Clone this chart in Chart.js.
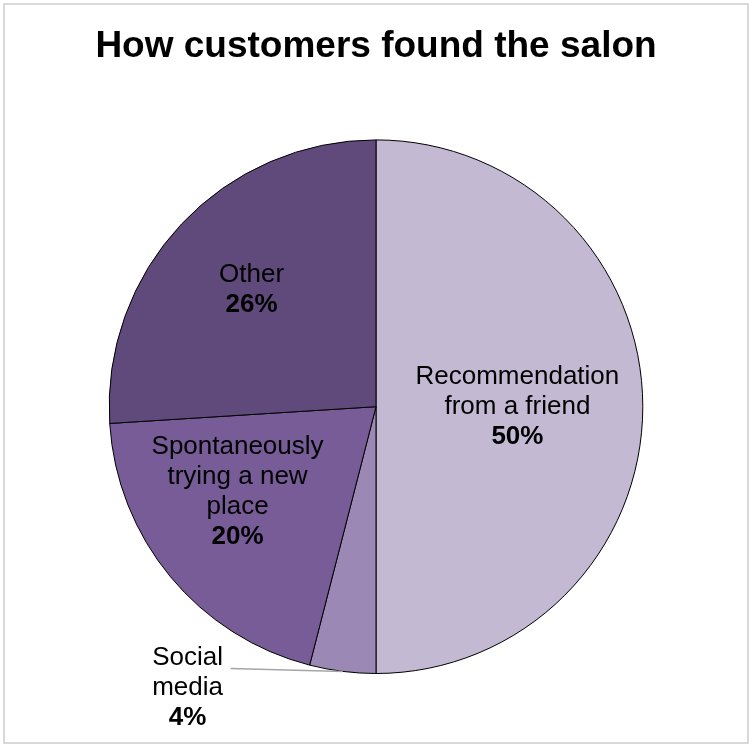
<!DOCTYPE html>
<html>
<head>
<meta charset="utf-8">
<title>How customers found the salon</title>
<script src="https://cdn.jsdelivr.net/npm/chart.js@4/dist/chart.umd.min.js"></script>
<style>
    html, body {
        margin: 0;
        padding: 0;
        background: #ffffff;
    }
    #wrap {
        position: relative;
        width: 752px;
        height: 746px;
    }
    #frame {
        position: absolute;
        left: 3px;
        top: 3px;
        width: 742px;
        height: 737px;
        border: 2px solid #d9d9d9;
        pointer-events: none;
    }
</style>
</head>
<body>
<div id="wrap">
    <canvas id="pieChart"></canvas>
    <div id="frame"></div>
</div>
<script>
const categories = [
    ["Recommendation", "from a friend"],
    ["Social", "media"],
    ["Spontaneously", "trying a new", "place"],
    ["Other"],
];
const shares = [50, 4, 20, 26];
const sliceColors = ["#c3b9d3", "#9b88b4", "#775c98", "#604a7b"];

// where each label sits: fraction of radius along the slice middle, plus a small nudge
const labelPlacement = [
    { r: 0.53, dx: 0, dy: 0 },
    { outside: true, dx: -155, dy: 16 },
    { r: 0.62, dx: -11, dy: -20 },
    { r: 0.64, dx: 0, dy: 0 },
];

const fontFamily = "'Liberation Sans', Arial, Helvetica, sans-serif";

const sliceLabels = {
    id: "sliceLabels",
    afterDatasetsDraw(chart) {
        const ctx = chart.ctx;
        const meta = chart.getDatasetMeta(0);
        const lineH = 30;
        ctx.save();
        ctx.textAlign = "center";
        ctx.textBaseline = "middle";
        ctx.fillStyle = "#000000";
        meta.data.forEach((arc, i) => {
            const p = arc.getProps(["x", "y", "startAngle", "endAngle", "outerRadius"], true);
            const mid = (p.startAngle + p.endAngle) / 2;
            const place = labelPlacement[i];
            let cx, cy;
            if (place.outside) {
                const ex = p.x + Math.cos(mid) * p.outerRadius;
                const ey = p.y + Math.sin(mid) * p.outerRadius;
                cx = ex + place.dx;
                cy = ey + place.dy;
                // leader line from first text line to the slice edge
                ctx.strokeStyle = "#a6a6a6";
                ctx.lineWidth = 1.5;
                ctx.beginPath();
                ctx.moveTo(cx + 43, cy - lineH * (categories[i].length) / 2 + 11);
                ctx.lineTo(ex, ey);
                ctx.stroke();
            } else {
                cx = p.x + Math.cos(mid) * p.outerRadius * place.r + place.dx;
                cy = p.y + Math.sin(mid) * p.outerRadius * place.r + place.dy;
            }
            const lines = categories[i].concat([shares[i] + "%"]);
            const top = cy - (lines.length - 1) * lineH / 2;
            lines.forEach((text, k) => {
                const bold = k === lines.length - 1;
                ctx.font = (bold ? "bold " : "") + "26px " + fontFamily;
                ctx.fillText(text, cx, top + k * lineH);
            });
        });
        ctx.restore();
    }
};

new Chart(document.getElementById("pieChart"), {
    type: "pie",
    data: {
        labels: categories.map(c => c.join(" ")),
        datasets: [{
            data: shares,
            backgroundColor: sliceColors,
            borderColor: "#000000",
            borderWidth: 1,
        }],
    },
    options: {
        responsive: true,
        maintainAspectRatio: false,
        animation: false,
        layout: {
            padding: { top: 0, bottom: 72, left: 0, right: 0 },
        },
        plugins: {
            legend: { display: false },
            tooltip: { enabled: false },
            title: {
                display: true,
                text: "How customers found the salon",
                color: "#000000",
                font: { family: fontFamily, size: 37, weight: "bold", lineHeight: 1.2 },
                padding: { top: 25, bottom: 70 },
            },
        },
    },
    plugins: [sliceLabels],
});
</script>
</body>
</html>
